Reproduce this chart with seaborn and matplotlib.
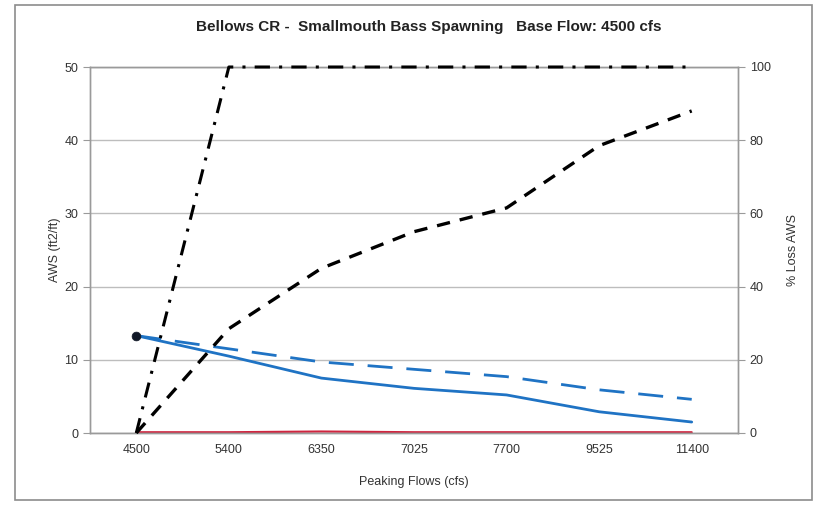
import numpy as np
import pandas as pd
import matplotlib
matplotlib.use("Agg")
import matplotlib.pyplot as plt
import seaborn as sns

# Data
flows = ["4500", "5400", "6350", "7025", "7700", "9525", "11400"]
aws_peak = [13.3, 10.5, 7.5, 6.1, 5.2, 2.9, 1.5]        # blue solid, left axis
aws_alt = [13.3, 11.5, 9.7, 8.7, 7.7, 5.9, 4.6]         # blue dashed, left axis
aws_red = [0.1, 0.1, 0.2, 0.1, 0.1, 0.1, 0.1]           # red, left axis
loss_dash = [0, 28.5, 45, 55, 61.5, 78.5, 88]           # black dashed, right axis
loss_dashdot = [0, 100, 100, 100, 100, 100, 100]        # black dash-dot, right axis
base_aws = [13.3]

df = pd.DataFrame({
    "pos": np.arange(len(flows)),
    "aws_peak": aws_peak,
    "aws_alt": aws_alt,
    "aws_red": aws_red,
    "loss_dash": loss_dash,
    "loss_dashdot": loss_dashdot,
})

sns.set_theme(style="white")
plt.rcParams["font.family"] = ["Liberation Sans", "DejaVu Sans"]

fig = plt.figure(figsize=(8.2, 5.05), dpi=100)
ax = fig.add_axes([90 / 820, 1 - 433 / 505, 648 / 820, 366 / 505])
ax2 = ax.twinx()

tick_color = "#333333"
grid_color = "#bdbdbd"

# left axis series
sns.lineplot(data=df, x="pos", y="aws_red", ax=ax, color="#d0253f", linewidth=1.6)
sns.lineplot(data=df, x="pos", y="aws_alt", ax=ax, color="#1f73c4", linewidth=2.0)
ax.lines[-1].set_dashes([9, 5])
sns.lineplot(data=df, x="pos", y="aws_peak", ax=ax, color="#1f73c4", linewidth=2.0)
sns.scatterplot(x=[0], y=base_aws, ax=ax, color="#111827", s=40, zorder=5,
                edgecolor="#111827")

# right axis series
sns.lineplot(data=df, x="pos", y="loss_dash", ax=ax2, color="black", linewidth=2.4)
ax2.lines[-1].set_dashes([4, 3])
sns.lineplot(data=df, x="pos", y="loss_dashdot", ax=ax2, color="black", linewidth=2.2)
ax2.lines[-1].set_dashes([5, 3, 1, 3])
for ln in ax2.lines:
    ln.set_clip_on(False)
    ln.set_zorder(4)

ax.set_xlim(-0.5, len(flows) - 0.5)
ax.set_ylim(0, 50)
ax2.set_ylim(0, 100)
ax.set_xticks(np.arange(len(flows)))
ax.set_xticklabels(flows)
ax.set_yticks(np.arange(0, 51, 10))
ax2.set_yticks(np.arange(0, 101, 20))

ax.yaxis.grid(True, color=grid_color, linewidth=1.0)
ax.set_axisbelow(True)
ax2.grid(False)

for a in (ax, ax2):
    for s in a.spines.values():
        s.set_color("#9a9a9a")
        s.set_linewidth(1.0)
    a.tick_params(colors=tick_color, labelsize=9, length=5, width=0.8)
    a.tick_params(axis="both", color="#9a9a9a")
ax.tick_params(axis="x", length=0, pad=8)
ax.tick_params(axis="y", left=True, direction="out")
ax2.tick_params(axis="y", right=True, direction="out")

ax.set_xlabel("Peaking Flows (cfs)", fontsize=9, color=tick_color, labelpad=14)
ax.set_ylabel("AWS (ft2/ft)", fontsize=9, color=tick_color, labelpad=2)
ax2.set_ylabel("% Loss AWS", fontsize=9, color=tick_color, labelpad=12)

fig.text(0.523, 1 - 27 / 505, "Bellows CR -  Smallmouth Bass Spawning   Base Flow: 4500 cfs",
         ha="center", va="center", fontsize=11, fontweight="bold", color="#222222")

# outer chart frame
fig.patches.append(plt.Rectangle((15 / 820, 1 - 500 / 505), 797 / 820, 495 / 505,
                                 transform=fig.transFigure, fill=False,
                                 edgecolor="#8c8c8c", linewidth=1.2))

fig.savefig("out.png", dpi=100)
